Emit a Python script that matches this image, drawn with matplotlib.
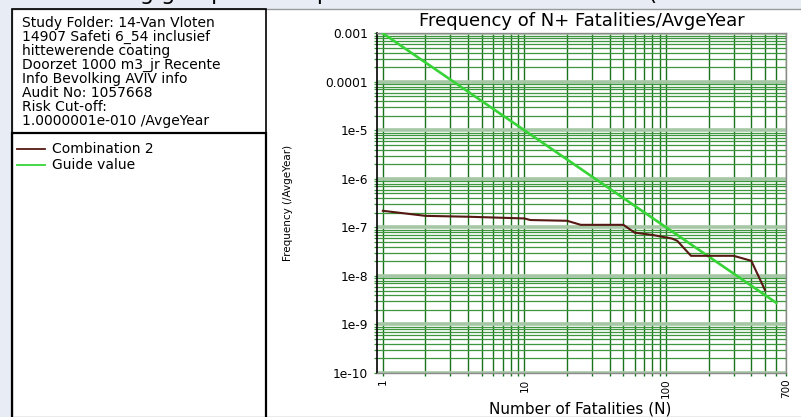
import matplotlib
matplotlib.use('Agg')
import matplotlib.pyplot as plt
from matplotlib.patches import Rectangle
from matplotlib.lines import Line2D

# FN curve
comb_n = [1, 2, 4, 10, 11, 20, 25, 50, 60, 80, 110, 120, 150, 300, 400, 500]
comb_f = [2.2e-7, 1.73e-7, 1.66e-7, 1.53e-7, 1.42e-7, 1.37e-7, 1.13e-7, 1.13e-7,
          7.8e-8, 7.0e-8, 5.9e-8, 5.3e-8, 2.6e-8, 2.6e-8, 2.05e-8, 5.1e-9]
guide_n = [1, 600]
guide_f = [1e-3, 2.8e-9]

xmajor = [1, 10, 100, 700]
xmajor_labels = ['1', '10', '100', '700']
xminor = [k * 10 ** e for e in range(0, 3) for k in range(2, 10) if k * 10 ** e < 700]
ymajor = [1e-3, 1e-4, 1e-5, 1e-6, 1e-7, 1e-8, 1e-9, 1e-10]
ymajor_labels = ['0.001', '0.0001', '1e-5', '1e-6', '1e-7', '1e-8', '1e-9', '1e-10']
yminor = [k * 10.0 ** e for e in range(-10, -3) for k in range(2, 10)]

info_lines = ['Study Folder: 14-Van Vloten',
              '14907 Safeti 6_54 inclusief',
              'hittewerende coating',
              'Doorzet 1000 m3_jr Recente',
              'Info Bevolking AVIV info',
              'Audit No: 1057668',
              'Risk Cut-off:',
              '1.0000001e-010 /AvgeYear']
legend_names = ['Combination 2', 'Guide value']

c_comb = '#561812'
c_guide = '#36d436'
c_vgrid = '#17721a'
c_hgrid = '#3e963e'
c_band = '#a6c7a6'

W, H = 801, 417


def fx(x):
    return x / W


def fy(y):
    return 1 - y / H


plt.rcParams['font.family'] = ['DejaVu Sans']
fig = plt.figure(figsize=(W / 100, H / 100), dpi=100, facecolor='#e7ecf5')

# window background + left panel boxes
fig.add_artist(Rectangle((fx(11.7), 0), 1, fy(9.3), transform=fig.transFigure,
                         facecolor='white', edgecolor='#9a9a9a', lw=1, zorder=-5))
fig.add_artist(Rectangle((fx(11.7), fy(133)), fx(266) - fx(11.7), fy(9.3) - fy(133),
                         transform=fig.transFigure, facecolor='none', edgecolor='black', lw=1.2))
fig.add_artist(Rectangle((fx(11.7), fy(420)), fx(266) - fx(11.7), fy(133) - fy(420),
                         transform=fig.transFigure, facecolor='none', edgecolor='black', lw=1.6))

# clipped slide heading at the very top
fig.text(fx(400), fy(0.5), 'Risicoberekening groepsrisico op basis van N+ Starlalstation (herbeoordeling)',
         ha='center', va='baseline', fontsize=16, color='black')

for i, line in enumerate(info_lines):
    fig.text(fx(21.7), fy(26.5 + 14.07 * i), line, fontsize=10, va='baseline')

for i, (name, col) in enumerate(zip(legend_names, [c_comb, c_guide])):
    yy = 149 + 16 * i
    fig.add_artist(Line2D([fx(16.7), fx(45)], [fy(yy), fy(yy)], color=col, lw=1.3,
                          transform=fig.transFigure))
    fig.text(fx(51.7), fy(yy), name, fontsize=10, va='center')

ax = fig.add_axes([fx(376.7), fy(373), fx(785.7) - fx(376.7), fy(33.3) - fy(373)])
ax.set_xscale('log')
ax.set_yscale('log')
ax.set_xlim(0.905, 700)
ax.set_ylim(1e-10, 1e-3)

ax.set_xticks(xmajor)
ax.set_xticklabels(xmajor_labels, rotation=90, fontsize=7.5)
ax.set_xticks(xminor, minor=True)
ax.set_xticklabels([], minor=True)
ax.set_yticks(ymajor)
ax.set_yticklabels(ymajor_labels, fontsize=8.8)
ax.set_yticks(yminor, minor=True)
ax.set_yticklabels([], minor=True)

ax.set_axisbelow(True)
ax.xaxis.grid(True, which='both', color=c_vgrid, lw=1, snap=True)
ax.yaxis.grid(True, which='minor', color=c_hgrid, lw=0.9, snap=True)
ax.yaxis.grid(True, which='major', color=c_band, lw=2.6)
ax.tick_params(axis='x', which='both', direction='out', length=2.5, width=1,
               color=c_vgrid, pad=1.5)
ax.tick_params(axis='y', which='both', direction='out', length=2.5, width=0.9,
               color=c_hgrid, pad=3.5)

for side in ['top', 'right', 'bottom']:
    ax.spines[side].set_color('#8a8a8a')
    ax.spines[side].set_linewidth(1)
ax.spines['left'].set_color('black')
ax.spines['left'].set_linewidth(1.2)

ax.plot(guide_n, guide_f, color=c_guide, lw=1.9, zorder=3)
ax.plot(comb_n, comb_f, color=c_comb, lw=1.5, zorder=4)

fig.text(fx(581.5), fy(26), 'Frequency of N+ Fatalities/AvgeYear', ha='center',
         va='baseline', fontsize=13)
fig.text(fx(580), fy(413), 'Number of Fatalities (N)', ha='center', va='baseline', fontsize=11)
fig.text(fx(288), fy(203), 'Frequency (/AvgeYear)', ha='center', va='center',
         rotation=90, fontsize=7.5)

fig.savefig('out.png', dpi=100, facecolor=fig.get_facecolor())
